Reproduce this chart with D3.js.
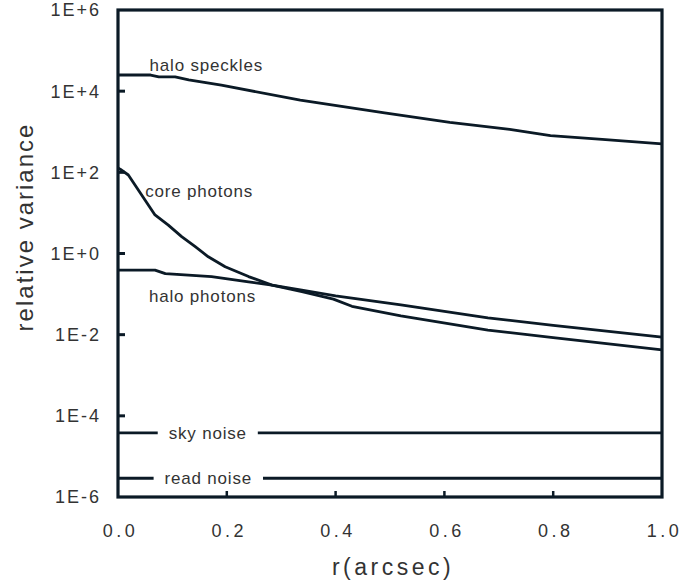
<!DOCTYPE html>
<html>
<head>
<meta charset="utf-8">
<script src="https://cdn.jsdelivr.net/npm/d3@7"></script>
<style>
  body { margin: 0; background: #fff; }
  svg { display: block; }
  text { font-family: "Liberation Sans", Arial, sans-serif; fill: #333; }
</style>
</head>
<body>
<svg width="682" height="587"></svg>
<script>
// values (r in arcsec, relative variance)
var speckleR = [0, 0.06, 0.075, 0.105, 0.13, 0.19, 0.335, 0.49, 0.61, 0.72, 0.795, 0.89, 1.0];
var speckleV = [2.5e4, 2.5e4, 2.25e4, 2.25e4, 1.9e4, 1.4e4, 6.0e3, 2.9e3, 1.7e3, 1.15e3, 800, 650, 500];

var coreR = [0, 0.004, 0.019, 0.068, 0.0925, 0.117, 0.142, 0.166, 0.197, 0.24, 0.283, 0.338, 0.396, 0.43, 0.52, 0.68, 0.8, 1.0];
var coreV = [128, 120, 86, 8.9, 5.0, 2.6, 1.47, 0.83, 0.47, 0.27, 0.166, 0.115, 0.075, 0.05, 0.029, 0.013, 0.0085, 0.0042];

var haloR = [0, 0.068, 0.087, 0.172, 0.24, 0.283, 0.338, 0.4, 0.52, 0.68, 0.8, 1.0];
var haloV = [0.39, 0.39, 0.32, 0.27, 0.2, 0.166, 0.125, 0.09, 0.054, 0.026, 0.017, 0.0087];

var skyNoise = 3.8e-5;
var readNoise = 2.9e-6;

var xTicks = [0, 0.2, 0.4, 0.6, 0.8, 1.0];
var yTicks = [1e-6, 1e-4, 1e-2, 1, 1e2, 1e4, 1e6];
var yTickLabels = ["1E-6", "1E-4", "1E-2", "1E+0", "1E+2", "1E+4", "1E+6"];

var svg = d3.select("svg"),
    margin = {top: 10, right: 20, bottom: 90, left: 118},
    width = +svg.attr("width") - margin.left - margin.right,
    height = +svg.attr("height") - margin.top - margin.bottom;

var ink = "#0b1a26";

var x = d3.scaleLinear().domain([0, 1]).range([0, width]);
var y = d3.scaleLog().domain([1e-6, 1e6]).range([height, 0]);

var g = svg.append("g")
    .attr("transform", "translate(" + margin.left + "," + margin.top + ")");

// inward ticks
g.selectAll(".ytick").data(yTicks.slice(1, -1)).enter().append("line")
    .attr("x1", 0).attr("x2", 7)
    .attr("y1", function(d) { return y(d); }).attr("y2", function(d) { return y(d); })
    .attr("stroke", ink).attr("stroke-width", 3);

g.selectAll(".xtick").data(xTicks.slice(1, -1)).enter().append("line")
    .attr("x1", function(d) { return x(d); }).attr("x2", function(d) { return x(d); })
    .attr("y1", height).attr("y2", height - 6)
    .attr("stroke", ink).attr("stroke-width", 2.5);

// tick labels
g.selectAll(".ylab").data(yTicks).enter().append("text")
    .attr("x", -17)
    .attr("y", function(d) { return y(d); })
    .attr("dy", "0.36em")
    .attr("text-anchor", "end")
    .style("font-size", "18px")
    .style("letter-spacing", "2px")
    .text(function(d, i) { return yTickLabels[i]; });

g.selectAll(".xlab").data(xTicks).enter().append("text")
    .attr("x", function(d) { return x(d) + 2.5; })
    .attr("y", height + 40)
    .attr("text-anchor", "middle")
    .style("font-size", "18px")
    .style("letter-spacing", "3.5px")
    .text(function(d) { return d.toFixed(1); });

// axis titles
svg.append("text")
    .attr("x", 393)
    .attr("y", 575)
    .attr("text-anchor", "middle")
    .style("font-size", "23px")
    .style("letter-spacing", "3.5px")
    .text("r(arcsec)");

svg.append("text")
    .attr("transform", "translate(33,227) rotate(-90)")
    .attr("text-anchor", "middle")
    .style("font-size", "24px")
    .style("letter-spacing", "2px")
    .text("relative variance");

// curves
var line = d3.line()
    .x(function(d) { return x(d[0]); })
    .y(function(d) { return y(d[1]); });

function pairs(rs, vs) { return rs.map(function(r, i) { return [r, vs[i]]; }); }

[pairs(speckleR, speckleV), pairs(coreR, coreV), pairs(haloR, haloV)].forEach(function(s) {
  g.append("path")
      .datum(s)
      .attr("fill", "none")
      .attr("stroke", ink)
      .attr("stroke-width", 2.8)
      .attr("stroke-linejoin", "round")
      .attr("d", line);
});

// flat noise floors with a gap for their label
[[skyNoise, "sky noise", 0.165], [readNoise, "read noise", 0.166]].forEach(function(n) {
  g.append("path")
      .datum([[0, n[0]], [1, n[0]]])
      .attr("fill", "none")
      .attr("stroke", ink)
      .attr("stroke-width", 2.8)
      .attr("d", line);
  var t = g.append("text")
      .attr("x", x(n[2]))
      .attr("y", y(n[0]))
      .attr("dy", "0.36em")
      .attr("text-anchor", "middle")
      .style("font-size", "17px")
      .style("letter-spacing", "0.8px")
      .text(n[1]);
  var b = t.node().getBBox();
  g.append("rect")
      .attr("x", b.x - 11).attr("y", b.y)
      .attr("width", b.width + 22).attr("height", b.height)
      .attr("fill", "#fff");
  t.raise();
});

// curve labels
var labels = [["halo speckles", 0.058, 3.1e4], ["core photons", 0.05, 24.5], ["halo photons", 0.057, 0.064]];
g.selectAll(".clab").data(labels).enter().append("text")
    .attr("x", function(d) { return x(d[1]); })
    .attr("y", function(d) { return y(d[2]); })
    .style("font-size", "17px")
    .style("letter-spacing", "0.8px")
    .text(function(d) { return d[0]; });

// frame
g.append("rect")
    .attr("width", width).attr("height", height)
    .attr("fill", "none")
    .attr("stroke", ink)
    .attr("stroke-width", 3.2);
</script>
</body>
</html>
